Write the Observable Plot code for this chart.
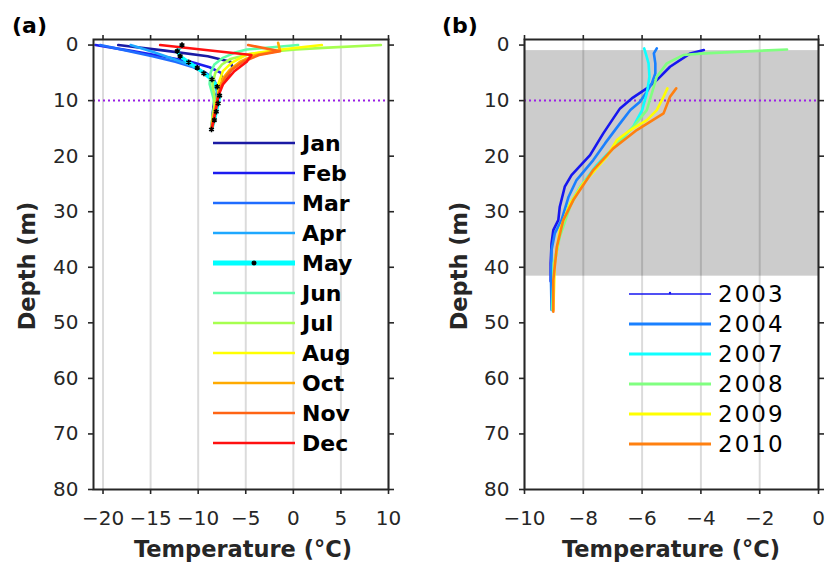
<!DOCTYPE html>
<html>
<head>
<meta charset="utf-8">
<script src="https://cdn.jsdelivr.net/npm/d3@7"></script>
<script src="https://cdn.jsdelivr.net/npm/@observablehq/plot@0.6"></script>
<style>
  body { margin: 0; background: #fff; }
  #root { position: relative; width: 827px; height: 568px; overflow: hidden; font-family: "DejaVu Sans", sans-serif; color: #262626; }
  #root svg.plot { position: absolute; top: 0; }
  .lbl { position: absolute; font-weight: bold; white-space: nowrap; transform: translate(-50%, -50%); }
  .panel { position: absolute; font-weight: bold; font-size: 22px; color: #000; }
  .legrow { position: absolute; display: flex; align-items: center; height: 30px; }
  .legrow span { margin-left: 7px; color: #000; }
</style>
</head>
<body>
<div id="root"></div>
<script>
// ---------- Data: panel (a), monthly profiles ----------
const months = ["Jan","Feb","Mar","Apr","May","Jun","Jul","Aug","Oct","Nov","Dec"];
const monthColors = ["#1a1aa4","#1c1cf0","#1f6cff","#1ea8ff","#00ffff","#5fffa8","#a6ff4f","#ffff00","#ffaa00","#ff6414","#ff1010"];

const depthJan = [0, 1, 2, 3, 4, 5.5, 7, 8.5, 10, 12, 15.2];
const tempJan  = [-18.4, -13.5, -9.0, -6.6, -6.4, -6.9, -7.6, -8.0, -8.3, -8.45, -8.6];
const depthFeb = [0, 1, 2, 3, 4, 5, 6.5, 8, 10, 12, 15.2];
const tempFeb  = [-20.8, -17.2, -13.8, -10.8, -8.8, -7.6, -7.4, -7.8, -8.2, -8.4, -8.6];
const depthMar = [0, 1, 2, 3, 4, 5, 6, 7.5, 9, 10.5, 12, 15.2];
const tempMar  = [-20.3, -17.5, -14.8, -12.4, -10.5, -9.2, -8.4, -8.0, -8.0, -8.2, -8.4, -8.6];
const depthApr = [0, 1.2, 2.5, 3.6, 4.7, 5.8, 7, 8.5, 10, 12, 15.2];
const tempApr  = [-17.1, -14.8, -12.6, -10.9, -9.6, -8.8, -8.3, -8.0, -8.1, -8.3, -8.6];
const depthMay = [0, 1.1, 2, 3.1, 4.1, 5.1, 6.2, 7.5, 9.1, 10.5, 12, 13.5, 15.2];
const tempMay  = [-11.7, -12.2, -11.9, -11.0, -10.1, -9.4, -8.55, -8.0, -7.75, -7.9, -8.1, -8.3, -8.6];
const depthJun = [0, 0.4, 0.8, 1.4, 2.3, 3.5, 5, 7, 9.5, 11, 13, 15.2];
const tempJun  = [0.5, -2.2, -4.9, -6.2, -7.4, -8.3, -8.7, -8.8, -8.4, -8.3, -8.5, -8.6];
const depthJul = [0, 0.5, 0.8, 1.1, 1.6, 2.5, 3.5, 5, 7, 9.2, 11, 13, 15.2];
const tempJul  = [9.2, 3.1, 0.3, -1.8, -4.6, -6.6, -7.5, -8.2, -8.5, -8.3, -8.3, -8.5, -8.6];
const depthAug = [0, 0.9, 1.7, 3.2, 4.7, 7.1, 9.2, 11, 13, 15.2];
const tempAug  = [3.0, -1.8, -4.9, -6.5, -7.4, -7.9, -7.9, -8.2, -8.4, -8.6];
const depthOct = [-0.4, 1.0, 1.8, 3, 4.5, 6, 8, 10, 12, 14, 15.2];
const tempOct  = [-1.6, -1.4, -4.0, -5.6, -6.7, -7.4, -7.8, -8.0, -8.3, -8.5, -8.6];
const depthNov = [0, 1.1, 1.8, 3, 4.5, 6, 8, 10, 12, 14, 15.2];
const tempNov  = [-4.75, -1.4, -3.6, -5.3, -6.5, -7.2, -7.7, -8.0, -8.2, -8.4, -8.6];
const depthDec = [0, 1.8, 3.0, 4.7, 7.1, 9.2, 11.3, 13, 15.2];
const tempDec  = [-14.0, -4.4, -4.9, -6.2, -7.4, -7.9, -8.1, -8.3, -8.6];

const monthDepths = [depthJan, depthFeb, depthMar, depthApr, depthMay, depthJun, depthJul, depthAug, depthOct, depthNov, depthDec];
const monthTemps  = [tempJan, tempFeb, tempMar, tempApr, tempMay, tempJun, tempJul, tempAug, tempOct, tempNov, tempDec];

// ---------- Data: panel (b), yearly profiles ----------
const years = ["2003","2004","2007","2008","2009","2010"];
const yearColors = ["#1616f0","#1a80ff","#10ffff","#80ff80","#ffff00","#ff8010"];

const depth2003 = [0.9, 1.5, 3.9, 6.3, 7.8, 9.6, 11.4, 13.2, 15.9, 19.8, 23.4, 25.5, 29.1, 31.5, 33.3, 35.7, 39.3, 42.5];
const temp2003  = [-3.9, -4.36, -5.05, -5.5, -5.84, -6.35, -6.75, -6.98, -7.32, -7.77, -8.4, -8.63, -8.8, -8.85, -9.02, -9.08, -9.11, -9.11];
const depth2004 = [0.6, 1.5, 3.3, 5.1, 6.9, 8.4, 10.2, 11.7, 14.1, 17.7, 20.7, 24.3, 27.3, 31.5, 33.9, 36.9, 42.3, 47.7];
const temp2004  = [-5.5, -5.6, -5.55, -5.55, -5.67, -5.84, -6.07, -6.4, -6.75, -7.26, -7.66, -8.23, -8.5, -8.74, -8.97, -9.08, -9.1, -9.08];
const depth2007 = [0.6, 2, 3.3, 5.7, 8.7, 11.7, 14.7, 17.5, 21.6, 25.5, 29, 34, 40, 47.5];
const temp2007  = [-5.93, -5.85, -5.78, -5.75, -5.84, -6.0, -6.3, -6.8, -7.55, -8.1, -8.5, -8.8, -9.0, -9.05];
const depth2008 = [0.8, 1.5, 1.8, 3.3, 5.7, 8.7, 11.7, 14.7, 17.1, 21.3, 25.5, 29.1, 34.5, 39.3, 47.7];
const temp2008  = [-1.07, -3.9, -4.6, -5.16, -5.5, -5.67, -5.84, -6.3, -6.75, -7.43, -8.1, -8.45, -8.8, -9.0, -9.05];
const depth2009 = [7.8, 9.3, 11.7, 13.5, 15.3, 17.1, 20.1, 24.9, 28.5, 33.3, 39.3, 47.7];
const temp2009  = [-5.14, -5.27, -5.5, -5.84, -6.4, -6.86, -7.2, -8.0, -8.45, -8.8, -8.97, -9.02];
const depth2010 = [7.8, 9.3, 12.3, 15.3, 18.6, 22.5, 27.9, 31.5, 36.3, 42.3, 48];
const temp2010  = [-4.84, -5.05, -5.27, -6.18, -6.98, -7.66, -8.34, -8.68, -8.9, -9.02, -9.02];

const yearDepths = [depth2003, depth2004, depth2007, depth2008, depth2009, depth2010];
const yearTemps  = [temp2003, temp2004, temp2007, temp2008, temp2009, temp2010];

// shaded depth band in (b), reference depth line
const shadeDepth = [1, 41.6];
const refDepth = [10];

// axes
const yDomain = [-1, 80];
const yTicks = [0, 10, 20, 30, 40, 50, 60, 70, 80];
const xDomainA = [-21, 10];
const xTicksA = [-20, -15, -10, -5, 0, 5, 10];
const xDomainB = [-10, 0];
const xTicksB = [-10, -8, -6, -4, -2, 0];

// ---------- Build ----------
const fmt = d => d < 0 ? "\u2212" + Math.abs(d) : String(d);
const axisColor = "#262626";

function rowsOf(names, depths, temps) {
  const out = [];
  names.forEach((n, i) => depths[i].forEach((d, j) => out.push({name: n, d, t: temps[i][j]})));
  return out;
}

function frameMarks(xTicks) {
  const common = {tickSize: 5, strokeWidth: 1.6, label: null, stroke: axisColor};
  return [
    Plot.axisY({...common, ticks: yTicks, anchor: "left", tickFormat: fmt, tickPadding: 10, fontSize: 20, fill: axisColor}),
    Plot.axisY({...common, ticks: yTicks, anchor: "right", tickFormat: () => ""}),
    Plot.axisX({...common, ticks: xTicks, anchor: "bottom", tickFormat: fmt, tickPadding: 16, fontSize: 20, fill: axisColor}),
    Plot.axisX({...common, ticks: xTicks, anchor: "top", tickFormat: () => ""}),
    Plot.frame({stroke: axisColor, strokeWidth: 2})
  ];
}

const monthRows = rowsOf(months, monthDepths, monthTemps);
const mayRows = monthRows.filter(r => r.name === "May");

const plotA = Plot.plot({
  width: 410, height: 568,
  marginLeft: 93, marginRight: 22, marginTop: 39, marginBottom: 79,
  style: {fontFamily: "DejaVu Sans, sans-serif", color: axisColor, background: "transparent", overflow: "visible"},
  x: {domain: xDomainA},
  y: {domain: yDomain, reverse: true},
  color: {domain: months, range: monthColors},
  marks: [
    Plot.gridX({ticks: xTicksA, stroke: "#000", strokeOpacity: 0.14, strokeWidth: 2}),
    Plot.ruleY(refDepth, {stroke: "#9a1ee6", strokeWidth: 2, strokeDasharray: "2,3"}),
    ...months.map(m => Plot.line(monthRows.filter(r => r.name === m), {
      x: "t", y: "d", stroke: "name", strokeWidth: m === "May" ? 3.6 : 2.6, curve: "linear"
    })),
    Plot.dot(mayRows, {x: "t", y: "d", symbol: "asterisk", r: 2.6, stroke: "#000", strokeWidth: 1.6}),
    ...frameMarks(xTicksA)
  ]
});
plotA.classList.add("plot");
plotA.style.left = "0px";

const yearRows = rowsOf(years, yearDepths, yearTemps);
const plotB = Plot.plot({
  width: 417, height: 568,
  marginLeft: 114, marginRight: 9, marginTop: 39, marginBottom: 79,
  style: {fontFamily: "DejaVu Sans, sans-serif", color: axisColor, background: "transparent", overflow: "visible"},
  x: {domain: xDomainB},
  y: {domain: yDomain, reverse: true},
  color: {domain: years, range: yearColors},
  marks: [
    Plot.rect([{y1: shadeDepth[0], y2: shadeDepth[1]}], {x1: () => xDomainB[0], x2: () => xDomainB[1], y1: "y1", y2: "y2", fill: "#cccccc"}),
    Plot.gridX({ticks: xTicksB, stroke: "#000", strokeOpacity: 0.14, strokeWidth: 2}),
    Plot.ruleY(refDepth, {stroke: "#9a1ee6", strokeWidth: 2, strokeDasharray: "2,3"}),
    ...years.map(y => Plot.line(yearRows.filter(r => r.name === y), {
      x: "t", y: "d", stroke: "name", strokeWidth: 2.6
    })),
    ...frameMarks(xTicksB)
  ]
});
plotB.classList.add("plot");
plotB.style.left = "410px";

const root = document.getElementById("root");
root.appendChild(plotA);
root.appendChild(plotB);

function addLabel(text, x, y, size, rotate) {
  const el = document.createElement("div");
  el.className = "lbl";
  el.textContent = text;
  el.style.left = x + "px";
  el.style.top = y + "px";
  el.style.fontSize = size + "px";
  if (rotate) el.style.transform = "translate(-50%, -50%) rotate(-90deg)";
  root.appendChild(el);
}
addLabel("Depth (m)", 27, 266, 22.5, true);
addLabel("Depth (m)", 459, 266, 22.5, true);
addLabel("Temperature (\u00B0C)", 243, 549, 22.5, false);
addLabel("Temperature (\u00B0C)", 671, 549, 22.5, false);

function panelTag(text, x, y) {
  const el = document.createElement("div");
  el.className = "panel";
  el.textContent = text;
  el.style.left = x + "px";
  el.style.top = y + "px";
  root.appendChild(el);
}
panelTag("(a)", 12, 13);
panelTag("(b)", 442, 13);

function legend(names, colors, left, top0, textStyle, widths, markerIdx, markerKind) {
  names.forEach((n, i) => {
    const row = document.createElement("div");
    row.className = "legrow";
    row.style.left = left + "px";
    row.style.top = (top0 + 30 * i - 15) + "px";
    const ns = "http://www.w3.org/2000/svg";
    const svg = document.createElementNS(ns, "svg");
    svg.setAttribute("width", 82); svg.setAttribute("height", 30);
    const ln = document.createElementNS(ns, "line");
    ln.setAttribute("x1", 0); ln.setAttribute("x2", 82);
    ln.setAttribute("y1", 15); ln.setAttribute("y2", 15);
    ln.setAttribute("stroke", colors[i]);
    ln.setAttribute("stroke-width", widths[i]);
    svg.appendChild(ln);
    if (i === markerIdx) {
      if (markerKind === "asterisk") {
        const g = document.createElementNS(ns, "path");
        g.setAttribute("d", "M41,12.5V17.5M38.5,15H43.5M39.2,13.2L42.8,16.8M42.8,13.2L39.2,16.8");
        g.setAttribute("stroke", "#000"); g.setAttribute("stroke-width", 1.3);
        svg.appendChild(g);
      } else {
        const c = document.createElementNS(ns, "circle");
        c.setAttribute("cx", 41); c.setAttribute("cy", 14); c.setAttribute("r", 1.2);
        c.setAttribute("fill", colors[i]);
        svg.appendChild(c);
      }
    }
    row.appendChild(svg);
    const sp = document.createElement("span");
    sp.textContent = n;
    Object.assign(sp.style, textStyle);
    row.appendChild(sp);
    root.appendChild(row);
  });
}
legend(months, monthColors, 213, 143, {fontSize: "22px", fontWeight: "bold"},
  months.map(m => m === "May" ? 5 : 2.6), 4, "asterisk");
legend(years, yearColors, 629, 294, {fontSize: "23px", fontWeight: "normal", letterSpacing: "2px"},
  years.map(y => y === "2003" ? 1.6 : 2.8), 0, "dot");
</script>
</body>
</html>
